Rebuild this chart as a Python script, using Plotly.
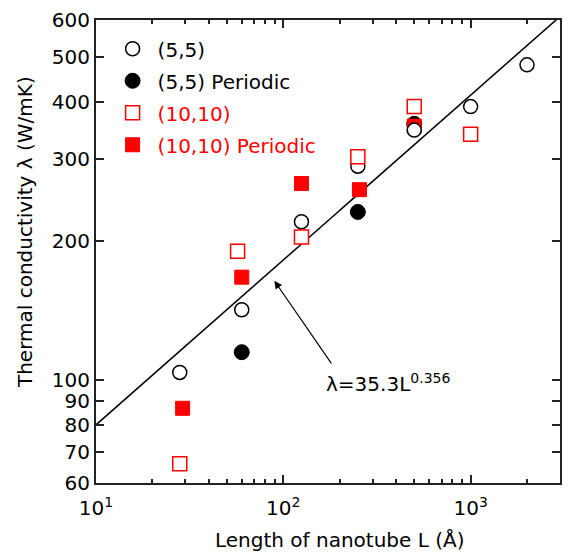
import numpy as np
import plotly.graph_objects as go

# Nanotube length L (Å) and thermal conductivity λ (W/mK)
L_55 = [28, 60, 125, 250, 500, 1000, 2000]
k_55 = [104, 142, 220, 290, 347, 390, 480]

L_55p = [60, 250, 500]
k_55p = [115, 231, 358]

L_1010 = [28, 57, 125, 250, 500, 1000]
k_1010 = [66, 190, 204, 304, 390, 340]

L_1010p = [29, 60, 125, 255, 500]
k_1010p = [87, 167, 266, 258, 354]

# Power-law fit λ = A * L^B
FIT_A = 35.3
FIT_B = 0.356
L_fit = np.logspace(1, np.log10(3000), 200)
k_fit = FIT_A * L_fit ** FIT_B

y_ticks = [60, 70, 80, 90, 100, 200, 300, 400, 500, 600]
x_ticks = [10, 100, 1000]
x_ticktext = ["10<sup>1</sup>", "10<sup>2</sup>", "10<sup>3</sup>"]
x_minor = [v * m for m in (10, 100, 1000) for v in range(2, 10) if v * m <= 3000]

FONT = "DejaVu Sans, sans-serif"
RED = "#ff0000"

fig = go.Figure()

fig.add_trace(go.Scatter(
    x=L_fit, y=k_fit, mode="lines", line=dict(color="black", width=1.5),
    showlegend=False, hoverinfo="skip"))

fig.add_trace(go.Scatter(
    x=L_55p, y=k_55p, mode="markers", name="(5,5) Periodic",
    legendrank=2, legendgroup="g2",
    marker=dict(symbol="circle", size=15, color="black",
                line=dict(color="black", width=1))))

fig.add_trace(go.Scatter(
    x=L_1010p, y=k_1010p, mode="markers", legendrank=4, legendgroup="g4",
    name="<span style='color:#ff0000'>(10,10) Periodic</span>",
    marker=dict(symbol="square", size=14, color=RED,
                line=dict(color=RED, width=1))))

fig.add_trace(go.Scatter(
    x=L_55, y=k_55, mode="markers", name="(5,5)",
    legendrank=1, legendgroup="g1",
    marker=dict(symbol="circle", size=14, color="white",
                line=dict(color="black", width=1.5))))

fig.add_trace(go.Scatter(
    x=L_1010, y=k_1010, mode="markers", legendrank=3, legendgroup="g3",
    name="<span style='color:#ff0000'>(10,10)</span>",
    marker=dict(symbol="square", size=14, color="white",
                line=dict(color=RED, width=1.5))))

# Label of the fit with an arrow pointing at the line
fig.add_annotation(
    x=np.log10(89.6), y=np.log10(164), xref="x", yref="y",
    text="", showarrow=True, arrowhead=2, arrowsize=1.3, arrowwidth=1.2,
    arrowcolor="black", ax=58, ay=84, axref="pixel", ayref="pixel")
fig.add_annotation(
    x=np.log10(165), y=np.log10(98.8), xref="x", yref="y",
    text=f"λ={FIT_A}L<sup>{FIT_B}</sup>", showarrow=False,
    xanchor="left", yanchor="middle",
    font=dict(family=FONT, size=20, color="black"))

# Axis titles
fig.add_annotation(
    x=0.5257, y=-0.124, xref="paper", yref="paper",
    text="Length of nanotube L (Å)", showarrow=False,
    xanchor="center", yanchor="middle",
    font=dict(family=FONT, size=20, color="black"))
fig.add_annotation(
    x=-0.1545, y=0.5427, xref="paper", yref="paper",
    text="Thermal conductivity λ (W/mK)", showarrow=False, textangle=-90,
    xanchor="center", yanchor="middle",
    font=dict(family=FONT, size=20, color="black"))

axis_common = dict(
    type="log", showgrid=False, zeroline=False, showline=True,
    linecolor="#222222", linewidth=2, mirror="allticks",
    ticks="inside", tickcolor="#222222", tickwidth=1.5,
    tickfont=dict(family=FONT, size=20, color="black"),
)

fig.update_xaxes(
    **axis_common,
    range=[1, np.log10(3000)],
    tickmode="array", tickvals=x_ticks, ticktext=x_ticktext, ticklen=8,
    ticklabelstandoff=6,
    minor=dict(ticks="inside", tickmode="array", tickvals=x_minor,
               ticklen=4, tickcolor="#222222", tickwidth=1.5),
)
fig.update_yaxes(
    **axis_common,
    range=[np.log10(60), np.log10(600)],
    tickmode="array", tickvals=y_ticks, ticktext=[str(v) for v in y_ticks],
    ticklen=8,
)

fig.update_layout(
    width=570, height=558,
    margin=dict(l=96, r=8, t=15, b=75),
    paper_bgcolor="white", plot_bgcolor="white",
    font=dict(family=FONT, size=20, color="black"),
    legend=dict(x=0.025, y=0.98, xanchor="left", yanchor="top",
                bgcolor="rgba(0,0,0,0)", tracegroupgap=3, itemwidth=40,
                font=dict(family=FONT, size=20, color="black"),
                itemsizing="trace"),
)

fig.write_html("out.html")
